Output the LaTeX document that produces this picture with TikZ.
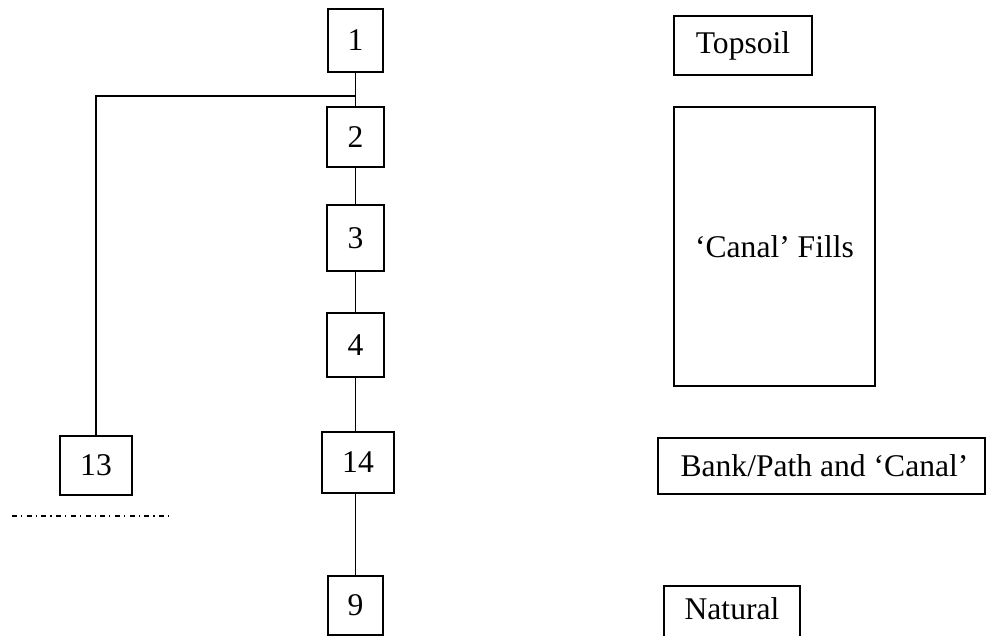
\documentclass[tikz,border=0pt]{standalone}
\usepackage{fontspec}
\setmainfont{Liberation Serif}
\begin{document}
\begin{tikzpicture}[x=0.5pt,y=-0.5pt,
  box/.style={draw, line width=0.65pt, inner sep=0pt, rectangle, font=\fontsize{15.8}{18}\selectfont},
  lbl/.style={inner sep=0pt, font=\fontsize{15.8}{18}\selectfont},
  conn/.style={line width=0.65pt},
  dashdotline/.style={line width=0.65pt, dash pattern=on 2.5pt off 2pt on 0.6pt off 2.25pt}]
\useasboundingbox (0,0) rectangle (986,636);
% stratigraphic sequence boxes
\node[box, minimum width=27.5pt, minimum height=31.5pt] (b1) at (355.5,40.5) {1};
\node[box, minimum width=28.5pt, minimum height=30pt] (b2) at (355.5,137) {2};
\node[box, minimum width=28.5pt, minimum height=33pt] (b3) at (355.5,238) {3};
\node[box, minimum width=28.5pt, minimum height=32pt] (b4) at (355.5,345) {4};
\node[box, minimum width=36pt, minimum height=30.5pt] (b14) at (358,462.5) {14};
\node[box, minimum width=27.5pt, minimum height=29.5pt] (b9) at (355.5,605.5) {9};
\node[box, minimum width=36pt, minimum height=29.5pt] (b13) at (96,465.5) {13};
% phase boxes
\node[box, minimum width=69pt, minimum height=29.5pt] (top) at (743,45.5) {Topsoil};
\node[box, minimum width=100.5pt, minimum height=139.5pt] (fills) at (774.5,246.5) {‘Canal’ Fills};
\node[box, minimum width=163.5pt, minimum height=28pt] (bankbox) at (821.5,466) {};
\node[lbl] (bank) at (824.5,466) {Bank/Path and ‘Canal’};
\node[box, minimum width=68pt, minimum height=29pt] (natbox) at (732,615) {};
\node[lbl] (nat) at (732,609) {Natural};
% connectors
\coordinate (j) at (355.5,96);
\draw[conn] (b1.south) -- (b2.north);
\draw[conn] (j) -| (b13.north);
\draw[conn] (b2.south) -- (b3.north);
\draw[conn] (b3.south) -- (b4.north);
\draw[conn] (b4.south) -- (b4.south |- b14.north);
\draw[conn] (b9.north |- b14.south) -- (b9.north);
% dash-dot boundary
\coordinate (d1) at (12,516);
\coordinate (d2) at (170,516);
\draw[dashdotline] (d1) -- (d2);
\end{tikzpicture}
\end{document}
